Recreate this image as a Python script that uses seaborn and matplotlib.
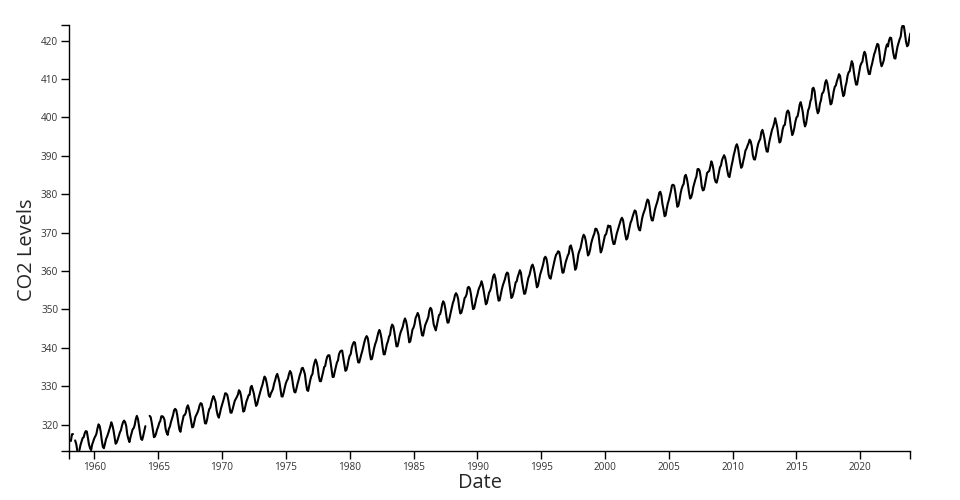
import matplotlib
matplotlib.use("Agg")
from matplotlib import pyplot as plt
import matplotlib.dates as mdates
import numpy as np
import pandas as pd
import seaborn as sns

# Mauna Loa monthly mean CO2 (ppm), one row per year Jan..Dec, None = missing
years = list(range(1958, 2024))
co2 = [
    [None, None, 315.70, 317.45, 317.51, None, 315.86, 314.93, 313.20, None, 313.33, 314.67],
    [315.58, 316.49, 316.65, 317.72, 318.29, 318.15, 316.54, 314.80, 313.84, 313.33, 314.81, 315.58],
    [316.43, 316.98, 317.58, 319.03, 320.04, 319.59, 318.18, 315.90, 314.17, 313.83, 315.00, 316.19],
    [316.89, 317.70, 318.54, 319.48, 320.58, 319.77, 318.57, 316.79, 314.99, 315.31, 316.10, 317.01],
    [317.94, 318.55, 319.68, 320.57, 321.02, 320.62, 319.61, 317.40, 316.25, 315.42, 316.69, 317.70],
    [318.74, 319.07, 319.86, 321.38, 322.25, 321.48, 319.74, 317.77, 316.21, 315.99, 317.07, 318.35],
    [319.57, None, None, None, 322.26, 321.89, 320.44, 318.69, 316.70, 316.87, 317.68, 318.71],
    [319.44, 320.44, 320.89, 322.14, 322.17, 321.87, 321.21, 318.87, 317.81, 317.30, 318.87, 319.42],
    [320.62, 321.60, 322.39, 323.70, 324.08, 323.75, 322.38, 320.36, 318.64, 318.10, 319.78, 321.03],
    [322.33, 322.50, 323.04, 324.42, 325.00, 324.09, 322.54, 320.92, 319.25, 319.39, 320.73, 321.96],
    [322.57, 323.15, 323.89, 325.02, 325.57, 325.36, 324.14, 322.11, 320.33, 320.25, 321.32, 322.89],
    [324.00, 324.42, 325.63, 326.66, 327.38, 326.71, 325.88, 323.66, 322.38, 321.78, 322.86, 324.12],
    [325.06, 325.98, 326.93, 328.13, 328.08, 327.67, 326.34, 324.69, 323.10, 323.06, 324.01, 325.13],
    [326.17, 326.68, 327.17, 327.79, 328.93, 328.57, 327.36, 325.43, 323.36, 323.56, 324.80, 326.01],
    [326.77, 327.63, 327.75, 329.72, 330.07, 329.09, 328.04, 326.32, 324.84, 325.20, 326.50, 327.55],
    [328.55, 329.56, 330.30, 331.50, 332.48, 332.07, 330.87, 329.31, 327.51, 327.18, 328.16, 328.64],
    [329.35, 330.71, 331.48, 332.65, 333.18, 332.20, 331.07, 329.15, 327.33, 327.28, 328.31, 329.58],
    [330.73, 331.46, 331.90, 333.17, 333.94, 333.45, 331.98, 329.95, 328.50, 328.34, 329.37, 330.58],
    [331.59, 332.75, 333.52, 334.64, 334.77, 334.00, 333.06, 330.68, 328.95, 328.75, 330.15, 331.62],
    [332.66, 333.13, 334.95, 336.13, 336.93, 336.17, 334.88, 332.56, 331.29, 331.27, 332.41, 333.60],
    [334.95, 335.25, 336.66, 337.69, 338.03, 338.01, 336.41, 334.41, 332.37, 332.41, 333.75, 334.90],
    [336.14, 336.69, 338.27, 338.96, 339.21, 339.26, 337.54, 335.75, 333.98, 334.19, 335.31, 336.81],
    [337.90, 338.34, 340.01, 340.93, 341.48, 341.33, 339.40, 337.70, 336.19, 336.15, 337.27, 338.32],
    [339.29, 340.55, 341.61, 342.53, 343.03, 342.54, 340.78, 338.44, 336.95, 337.08, 338.58, 339.88],
    [340.96, 341.73, 342.81, 343.97, 344.63, 343.79, 342.32, 340.09, 338.28, 338.29, 339.60, 340.90],
    [341.68, 342.90, 343.33, 345.25, 346.03, 345.63, 344.19, 342.27, 340.35, 340.38, 341.59, 343.05],
    [344.10, 344.79, 345.52, 346.84, 347.63, 346.97, 345.53, 343.55, 341.40, 341.67, 343.10, 344.70],
    [345.21, 346.16, 347.74, 348.34, 349.06, 348.38, 346.72, 345.02, 343.27, 343.13, 344.49, 345.88],
    [346.56, 347.28, 348.01, 349.77, 350.38, 349.93, 348.16, 346.08, 345.22, 344.51, 345.93, 347.22],
    [348.52, 348.73, 349.73, 351.31, 352.09, 351.53, 350.11, 348.08, 346.52, 346.59, 347.96, 349.16],
    [350.39, 351.64, 352.40, 353.69, 354.21, 353.72, 352.69, 350.40, 348.92, 349.13, 350.20, 351.41],
    [352.91, 353.27, 353.96, 355.64, 355.86, 355.37, 353.99, 351.81, 350.05, 350.25, 351.49, 352.85],
    [353.80, 355.04, 355.73, 356.32, 357.32, 356.34, 354.84, 353.01, 351.31, 351.62, 353.07, 354.33],
    [354.84, 355.73, 357.23, 358.66, 359.13, 358.13, 356.19, 353.85, 352.25, 352.35, 353.81, 355.12],
    [356.25, 357.11, 357.86, 359.09, 359.59, 359.33, 357.01, 354.94, 352.96, 353.32, 354.32, 355.57],
    [357.00, 357.31, 358.47, 359.27, 360.19, 359.52, 357.33, 355.64, 354.03, 354.12, 355.41, 356.91],
    [358.24, 358.92, 359.99, 361.23, 361.65, 360.81, 359.38, 357.46, 355.73, 356.08, 357.53, 358.98],
    [359.92, 360.86, 361.83, 363.30, 363.69, 363.19, 361.64, 359.12, 358.17, 357.99, 359.45, 360.68],
    [362.07, 363.24, 364.17, 364.57, 365.13, 364.92, 363.55, 361.38, 359.54, 359.58, 360.89, 362.24],
    [363.09, 364.03, 364.51, 366.35, 366.64, 365.59, 364.31, 362.25, 360.29, 360.82, 362.49, 364.38],
    [365.26, 365.98, 367.24, 368.66, 369.42, 368.99, 367.82, 365.95, 364.02, 364.40, 365.52, 367.13],
    [368.18, 369.07, 369.68, 370.99, 370.96, 370.30, 369.45, 366.90, 364.81, 365.37, 366.72, 368.10],
    [369.29, 369.54, 370.60, 371.82, 371.58, 371.70, 369.86, 368.13, 367.00, 367.03, 368.37, 369.67],
    [370.59, 371.51, 372.43, 373.37, 373.85, 373.21, 371.51, 369.61, 368.18, 368.45, 369.76, 371.24],
    [372.53, 373.20, 374.12, 375.02, 375.76, 375.52, 374.01, 371.85, 370.75, 370.55, 372.25, 373.79],
    [374.88, 375.64, 376.45, 377.73, 378.60, 378.28, 376.70, 374.38, 373.17, 373.14, 374.66, 375.99],
    [377.00, 377.87, 378.88, 380.35, 380.62, 379.69, 377.47, 376.01, 374.25, 374.46, 376.16, 377.51],
    [378.46, 379.73, 380.77, 382.29, 382.45, 382.21, 380.74, 378.74, 376.70, 377.00, 378.35, 380.11],
    [381.38, 382.19, 382.67, 384.61, 385.03, 384.05, 382.46, 380.41, 378.85, 379.13, 380.15, 381.82],
    [382.89, 383.90, 384.58, 386.50, 386.56, 386.10, 384.50, 381.99, 380.96, 381.12, 382.45, 383.95],
    [385.52, 385.82, 386.03, 387.21, 388.54, 387.76, 386.36, 384.09, 383.18, 382.99, 384.19, 385.56],
    [386.94, 387.48, 388.82, 389.55, 390.14, 389.48, 388.03, 386.11, 384.74, 384.43, 386.02, 387.42],
    [388.71, 390.20, 391.17, 392.46, 393.00, 392.15, 390.20, 388.35, 386.85, 387.24, 388.67, 389.79],
    [391.33, 391.86, 392.60, 393.25, 394.19, 393.74, 392.51, 390.13, 389.08, 389.00, 390.28, 391.86],
    [393.12, 393.86, 394.40, 396.18, 396.74, 395.71, 394.36, 392.39, 391.11, 391.05, 392.98, 394.34],
    [395.55, 396.80, 397.43, 398.41, 399.78, 398.61, 397.32, 395.20, 393.45, 393.70, 395.16, 396.84],
    [397.85, 398.01, 399.77, 401.38, 401.78, 401.25, 399.10, 397.03, 395.38, 396.03, 397.28, 398.91],
    [399.98, 400.28, 401.54, 403.28, 403.96, 402.80, 401.31, 398.93, 397.63, 398.29, 400.16, 401.85],
    [402.56, 404.12, 404.87, 407.45, 407.72, 406.83, 404.41, 402.27, 401.05, 401.59, 403.55, 404.45],
    [406.17, 406.46, 407.22, 409.04, 409.69, 408.88, 407.12, 405.13, 403.37, 403.63, 405.12, 406.81],
    [407.96, 408.32, 409.41, 410.24, 411.24, 410.79, 408.71, 406.99, 405.51, 406.00, 408.02, 409.07],
    [410.83, 411.75, 411.97, 413.33, 414.64, 413.93, 411.74, 409.95, 408.54, 408.53, 410.27, 411.76],
    [413.40, 414.11, 414.51, 416.21, 417.07, 416.38, 414.38, 412.55, 411.29, 411.28, 412.89, 413.89],
    [415.15, 416.47, 417.16, 418.24, 419.13, 418.94, 416.96, 414.47, 413.30, 413.93, 414.82, 416.40],
    [418.01, 418.99, 418.45, 420.02, 420.77, 420.68, 418.68, 416.76, 415.41, 415.31, 417.04, 418.46],
    [419.48, 420.41, 420.99, 423.36, 424.00, 423.68, 421.83, 419.68, 418.51, 418.82, 420.46, 421.86],
]

rows = []
for y, vals in zip(years, co2):
    for m, v in enumerate(vals):
        rows.append((pd.Timestamp(y, m + 1, 1), v))
df = pd.DataFrame(rows, columns=["date", "co2"]).astype({"co2": float})
# drop leading missing months, then split into unbroken runs so gaps stay gaps
df = df.loc[df["co2"].first_valid_index():].reset_index(drop=True)
df["seg"] = df["co2"].isna().cumsum()
df = df.dropna()

sns.set_style("white")
plt.rcParams["font.family"] = ["Open Sans", "DejaVu Sans"]

fig = plt.figure(figsize=(9.6, 5), dpi=100)
ax = fig.add_axes([69.3 / 960, 49 / 500, 841 / 960, 426 / 500])

sns.lineplot(data=df, x="date", y="co2", units="seg", estimator=None,
             color="black", linewidth=1.5, ax=ax)

ax.set_xlim(pd.Timestamp("1958-01-15"), pd.Timestamp("2023-12-01"))
ax.set_ylim(313.1, 424.05)
ax.xaxis.set_major_locator(mdates.YearLocator(5))
ax.xaxis.set_major_formatter(mdates.DateFormatter("%Y"))
ax.set_yticks(range(320, 421, 10))
# outer ticks at the axis ends, d3 style
ax.set_xticks(list(ax.get_xlim()), minor=True)
ax.set_yticks(list(ax.get_ylim()), minor=True)

sns.despine(ax=ax)
for s in ["left", "bottom"]:
    ax.spines[s].set_color("black")
    ax.spines[s].set_linewidth(1)
ax.tick_params(which="both", length=6, width=1, color="black",
               labelsize=7.2, labelcolor="#333333", pad=2,
               bottom=True, left=True)

ax.set_xlabel("Date", fontsize=14.4, va="center")
ax.set_ylabel("CO2 Levels", fontsize=14.4, va="center")
ax.xaxis.set_label_coords((480 - 69.3) / 841, (451 - 483) / 426)
ax.yaxis.set_label_coords((27 - 69.3) / 841, (451 - 249.5) / 426)

fig.savefig("out.png", dpi=100)
